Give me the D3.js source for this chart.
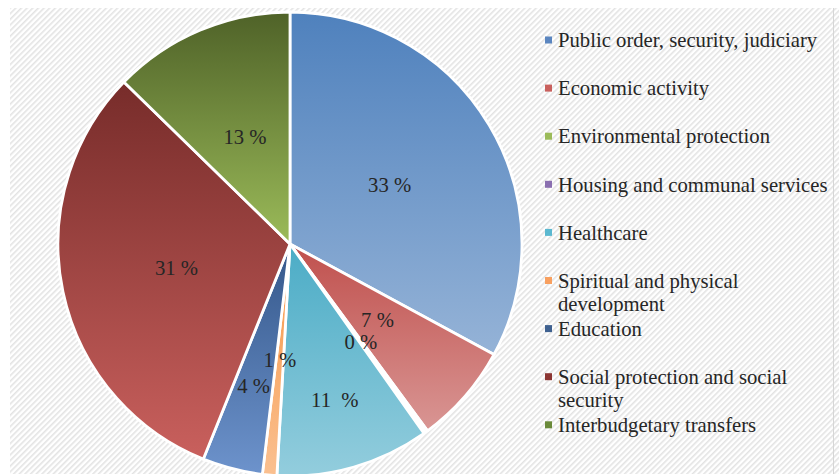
<!DOCTYPE html>
<html>
<head>
<meta charset="utf-8">
<script src="https://cdn.jsdelivr.net/npm/d3@7"></script>
<style>
  html, body { margin: 0; padding: 0; background: #fff; }
  svg { display: block; }
</style>
</head>
<body>
<div id="chart"></div>
<script>
// Budget expenditure shares (percent)
var categories = [
  "Public order, security, judiciary",
  "Economic activity",
  "Environmental protection",
  "Housing and communal services",
  "Healthcare",
  "Spiritual and physical development",
  "Education",
  "Social protection and social security",
  "Interbudgetary transfers"
];
var values = [32.9, 7.0, 0.2, 0.1, 10.7, 1.0, 4.2, 31.2, 12.7];
var labels = ["33 %", "7 %", "0 %", "", "11  %", "1 %", "4 %", "31 %", "13 %"];

(function () {
  var W = 839, H = 474;
  var cx = 290, cy = 244, R = 232;
  var FONT = "Liberation Serif";
  var FS = 20.7;

  // gradient top / bottom per slice (Excel-ish)
  var colorsTop = ["#4f81bd", "#c0504d", "#9bbb59", "#8064a2", "#4bacc6", "#f79646", "#34578a", "#772c2a", "#4f6228"];
  var colorsBot = ["#95b3d7", "#d99694", "#c3d69b", "#b3a2c7", "#93cddd", "#fac090", "#6d93cc", "#c9605d", "#9bbb59"];
  // legend marker colours
  var markers = ["#5b86c0", "#c9605d", "#9bbb59", "#8a6fb0", "#5bb8d0", "#f8a060", "#3f6190", "#8c3633", "#6a8a3a"];

  // label distance as fraction of radius (some Excel labels got pushed out)
  var labelR = [0.5, 0.5, 0.52, 0.5, 0.7, 0.5, 0.63, 0.5, 0.5];

  var svg = d3.select("#chart").append("svg")
    .attr("width", W).attr("height", H);

  var defs = svg.append("defs");

  // striped background
  var pat = defs.append("pattern")
    .attr("id", "stripes")
    .attr("patternUnits", "userSpaceOnUse")
    .attr("width", 4).attr("height", 4)
    .attr("patternTransform", "rotate(45)");
  pat.append("rect").attr("width", 4).attr("height", 4).attr("fill", "#ffffff");
  pat.append("rect").attr("width", 1.6).attr("height", 4).attr("fill", "#e3e3e3");

  svg.append("rect")
    .attr("x", 10).attr("y", 8)
    .attr("width", W - 10).attr("height", H - 8)
    .attr("fill", "url(#stripes)");

  svg.append("line")
    .attr("x1", 833.5).attr("x2", 833.5)
    .attr("y1", 8).attr("y2", H)
    .attr("stroke", "#d6d6d6").attr("stroke-width", 1);

  categories.forEach(function (c, i) {
    var g = defs.append("linearGradient")
      .attr("id", "grad" + i)
      .attr("x1", 0).attr("y1", 0).attr("x2", 0).attr("y2", 1);
    g.append("stop").attr("offset", "0%").attr("stop-color", colorsTop[i]);
    g.append("stop").attr("offset", "100%").attr("stop-color", colorsBot[i]);
  });

  var pie = d3.pie().sort(null).value(function (d) { return d; });
  var arcs = pie(values);
  var arc = d3.arc().innerRadius(0).outerRadius(R);

  var gPie = svg.append("g").attr("transform", "translate(" + cx + "," + cy + ")");

  gPie.selectAll("path.slice")
    .data(arcs)
    .join("path")
    .attr("class", "slice")
    .attr("d", arc)
    .attr("fill", function (d, i) { return "url(#grad" + i + ")"; })
    .attr("stroke", "#ffffff")
    .attr("stroke-width", 2.8)
    .attr("stroke-linejoin", "round");

  gPie.selectAll("text.lbl")
    .data(arcs)
    .join("text")
    .attr("class", "lbl")
    .attr("transform", function (d, i) {
      var a = (d.startAngle + d.endAngle) / 2;
      var r = R * labelR[i];
      return "translate(" + (Math.sin(a) * r) + "," + (-Math.cos(a) * r) + ")";
    })
    .attr("text-anchor", "middle")
    .attr("dy", "0.35em")
    .attr("font-family", FONT)
    .attr("font-size", FS)
    .attr("fill", "#262626")
    .style("white-space", "pre")
    .text(function (d, i) { return labels[i]; });

  // legend
  var legendLines = [
    ["Public order, security, judiciary"],
    ["Economic activity"],
    ["Environmental protection"],
    ["Housing and communal services"],
    ["Healthcare"],
    ["Spiritual and physical", "development"],
    ["Education"],
    ["Social protection and social", "security"],
    ["Interbudgetary transfers"]
  ];
  var lgX = 545, lgY = 40, lgStep = 48.1, lineH = 23.5;
  var lg = svg.append("g");
  categories.forEach(function (c, i) {
    var y = lgY + i * lgStep;
    lg.append("rect")
      .attr("x", lgX).attr("y", y - 3.5)
      .attr("width", 7).attr("height", 7)
      .attr("fill", markers[i]);
    var t = lg.append("text")
      .attr("x", lgX + 13).attr("y", y)
      .attr("font-family", FONT)
      .attr("font-size", FS)
      .attr("fill", "#262626");
    legendLines[i].forEach(function (ln, k) {
      t.append("tspan")
        .attr("x", lgX + 13)
        .attr("dy", k === 0 ? "0.35em" : lineH)
        .text(ln);
    });
  });
})();
</script>
</body>
</html>
